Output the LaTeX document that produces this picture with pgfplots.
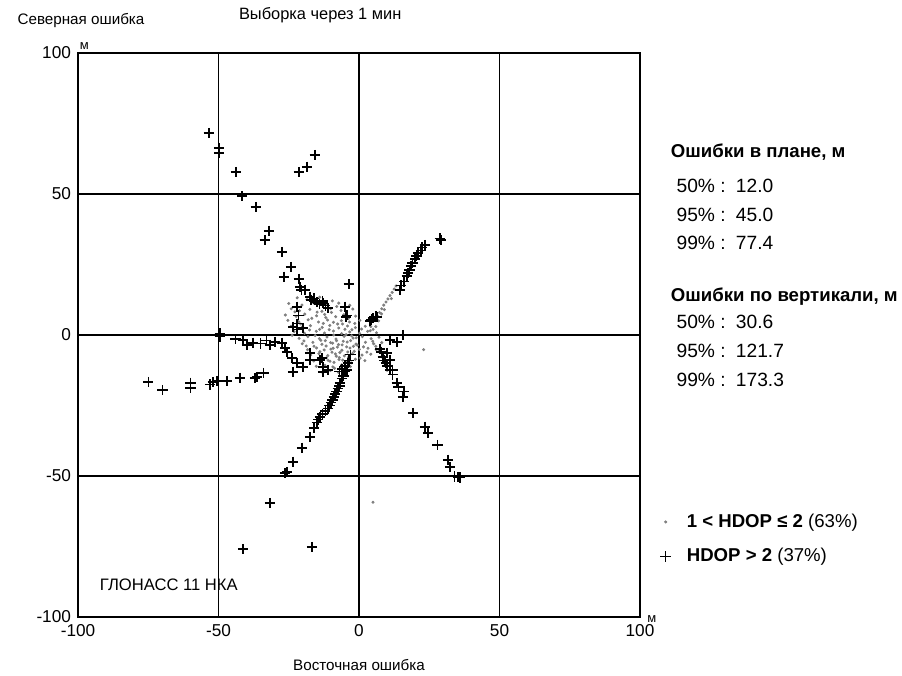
\documentclass[border=0pt]{standalone}
\usepackage{fontspec}
\setmainfont{Liberation Sans}
\usepackage{pgfplots}
\pgfplotsset{compat=1.18}

\begin{document}
\begin{tikzpicture}
\begin{axis}[
    scale only axis,
    width=281pt, height=282pt,
    xmin=-100, xmax=100, ymin=-100, ymax=100,
    xtick={-100,-50,0,50,100}, ytick={-100,-50,0,50,100},
    major tick length=0pt,
    grid=major,
    grid style={black, line width=0.95pt},
    axis line style={black, line width=1pt},
    /pgf/number format/assume math mode=true,
    ticklabel style={font=\fontsize{8.6}{10}\selectfont},
    clip=false,
    legend style={at={(1.025,0.138)}, anchor=west, draw=none, fill=none,
        font=\fontsize{9.3}{11}\selectfont, row sep=7pt,
        nodes={inner sep=1pt},
        /tikz/every odd column/.append style={column sep=7pt}},
    legend cell align=left,
]
% 1 < HDOP <= 2
\addplot[only marks, mark=*, mark size=0.55pt, color=black!50] coordinates {
(-22,13.2) (-18.5,12.6) (-14,13.4) (-9.5,12.1)
(-25,11.2) (-20.3,10.6) (-16.2,11.4) (-11.4,10.8) (-7.2,11.3) (-3.3,10.5)
(-24.1,9.3) (-21.2,8.6) (-17.5,9.1) (-13.2,8.4) (-10.1,9.4) (-6.4,8.7) (-2.2,9.2)
(-26.2,7.1) (-22.4,6.6) (-19.3,7.4) (-15.1,6.8) (-12.2,7.3) (-8.3,6.5) (-5.4,7.2) (-1.2,6.7)
(-25.3,5.2) (-21.5,4.7) (-18.1,5.4) (-14.4,4.6) (-11.2,5.3) (-9.1,4.5) (-6.3,5.1) (-3.4,4.6) (0.3,5.2)
(-24.2,3.1) (-20.4,2.6) (-17.3,3.3) (-13.1,2.7) (-10.4,3.4) (-7.2,2.5) (-4.1,3.2) (-1.3,2.6) (2.2,3.1)
(-23.1,1.2) (-19.4,0.6) (-15.2,1.3) (-12.3,0.7) (-9.1,1.4) (-6.2,0.5) (-3.3,1.1) (0.2,0.6) (3.1,1.3) (6.2,0.8)
(-21.3,-1.2) (-18.2,-0.6) (-14.1,-1.3) (-11.4,-0.7) (-8.2,-1.4) (-5.3,-0.5) (-2.1,-1.1) (1.2,-0.6) (4.3,-1.3) (7.1,-0.8)
(-20.2,-3.1) (-16.4,-2.6) (-13.2,-3.3) (-10.1,-2.7) (-7.3,-3.4) (-4.2,-2.5) (-1.1,-3.2) (2.3,-2.6) (5.2,-3.1) (8.1,-2.7)
(-18.3,-5.2) (-15.1,-4.6) (-12.4,-5.3) (-9.2,-4.7) (-6.1,-5.4) (-3.2,-4.6) (0.1,-5.1) (3.2,-4.7) (6.1,-5.2)
(-17.2,-7.1) (-14.3,-6.6) (-11.1,-7.3) (-8.4,-6.7) (-5.2,-7.4) (-2.3,-6.6) (1.1,-7.1) (4.2,-6.8)
(-16.1,-9.2) (-13.2,-8.6) (-10.3,-9.3) (-7.1,-8.7) (-4.2,-9.4) (-1.3,-8.6) (2.1,-9.1)
(-15.2,-11.1) (-12.1,-10.7) (-9.3,-11.3) (-6.2,-10.6) (-3.1,-11.2)
(-13.1,-13.2) (-10.2,-12.6) (-7.3,-13.3) (-4.1,-12.7)
(-8,-2) (-6,-3.5) (-4,-6) (-2,-4) (-9,0) (-12,-2) (-7,-8) (-3,-2) (-10,-5) (-5,2) (-1,-1) (-14,2) (-16,-4) (-11,-9)
(-13.6,-1.9) (-11.7,-3.9) (-9.6,-6.1) (-7.7,-4.3) (-5.6,-2.2) (-3.7,-7.9) (-1.7,-5.8) (-8.9,-9.7)
(-6.6,-11.9) (-10.6,1.9) (-7.6,3.9) (-4.6,0.1) (-2.6,-0.3) (-0.6,-3.6) (1.6,-4.2) (-12.7,4.1)
(-15.6,-0.2) (-17.6,1.8) (-19.6,-2.1) (-16.8,5.9) (-14.9,8.1) (-11.8,6.2) (-9.8,8.0) (-7.9,10.1)
(-5.9,3.9) (-3.8,5.8) (-13.9,-5.9) (-11.6,-8.1) (-8.7,-11.8) (-5.8,-8.9) (-2.8,-9.9) (0.4,-8.2)
(2.8,-6.1) (4.9,-2.2) (-18.8,-3.9) (-20.7,3.9) (-22.8,8.2) (-23.8,-0.1) (-6.8,-6.2) (-9.4,-2.9)
(-4.4,-4.2) (-8.1,-7.5) (-2.5,1.9) (0.9,2.1) (-1.5,4.1)
(4,1.5) (4.2,3) (4.1,4.5) (5,2) (6,3) (6.5,6.8) (7.3,8) (8.1,9.3) (8.8,10.6) (9.6,11.7)
(10.3,12.8) (11,14) (11.8,15.1) (12.5,16.3) (13.2,17.4) (7,5) (9,9) (11.5,12.9) (8,7.5)
(6,-4) (7,-5.8) (8,-7.7) (9,-10) (10,-12.5)
(5,-59.3) (23,-5.2)
};
\addlegendentry{\textbf{1 < HDOP ≤ 2} (63\%)}
% HDOP > 2
\addplot[only marks, mark=+, mark size=2.6pt, color=black, mark options={line width=0.75pt}] coordinates {
(-53.4,71.6) (-49.8,66.3) (-49.8,64.5) (-43.8,57.8) (-15.7,63.8) (-18.5,59.6) (-21.4,57.8)
(-41.6,49.3) (-36.7,45.4) (-32,36.9) (-33.5,33.7) (-27.4,29.4) (-24.2,24.1) (-26.7,20.6)
(-21.4,19.9) (-19.2,16) (-3.6,18.1) (-21,17) (-20.5,16)
(-17,12.5) (-15,11.7) (-13,12) (-12,10.5) (-11,9.5) (-16,13) (-14,11) (-17.4,13.5) (-12.8,11.3)
(-5,10) (-4.6,6.4) (-4.3,7) (-22,10) (-22,4) (-22,2) (-23.5,2.8) (-19.9,2.5) (-21.5,7)
(-49.5,0.5) (-49.5,-0.5) (-44,-1.5) (-41.3,-1.8) (-39.9,-3.5) (-37.7,-2.8) (-35,-3) (-33,-2)
(-31.7,-3.5) (-29.9,-2.5) (-27.4,-2.8) (-26.3,-4.6) (-25.6,-6) (-23.8,-8.2) (-22,-9.9)
(-23.5,-13.1) (-19.9,-11.3) (-17.4,-6.4) (-13.2,-8.2) (-12.8,-11.3) (-12.8,-13.1)
(-13.9,-8.9) (-17.4,-8.9) (-19.9,-11.3) (-11,-12.4)
(-75,-16.7) (-70,-19.5) (-60,-17) (-60,-18.8) (-53,-17.5) (-52,-16.7) (-50.5,-16.3) (-47,-16.3)
(-42.3,-15.2) (-37,-15.2) (-36.3,-14.9) (-34,-13.5)
(-3,-7) (-3.5,-9) (-4,-10) (-4.3,-12.4) (-5,-11) (-5,-13) (-6,-12) (-5.5,-14.5) (-6,-15.5)
(-7,-13) (-6.8,-17) (-7,-18) (-7.5,-19) (-8,-20) (-8.5,-21) (-9,-22) (-9.5,-23) (-10,-24)
(-10.5,-25) (-11,-26) (-12,-27) (-13,-28) (-13.9,-29) (-14.5,-30) (-15,-31) (-16,-33)
(-17.4,-36.2) (-20.3,-40) (-23.5,-45) (-25.6,-48.6) (-26.3,-49)
(-31.7,-59.6) (-41.3,-75.9) (-16.7,-75.2)
(7.5,-5) (8,-6) (8.5,-7.8) (9,-9) (9.5,-10) (10,-11) (11,-12.4) (12,-14) (13.5,-17)
(14,-18.5) (16,-20) (15.7,-22) (19.2,-27.7) (23.5,-32.6) (24.6,-34.8) (28,-39)
(31.7,-44.3) (32.4,-46.8) (34,-50.2) (35.2,-50.4) (36,-50.6)
(10,-6.4) (11,-8.9) (12,-12.4) (11,-1.8) (13.5,-2.5) (15.7,0)
(28.8,34.2) (29.2,33.7) (23.5,31.9) (22.5,31) (22,30) (21,29) (20.5,28) (20,27) (19,25.5)
(18.5,24.5) (18,23) (17.5,22) (17,21) (16,19) (15,17.5) (14.6,16)
(4,5) (4.5,5.5) (5,6) (6,6.5) (6.4,6.4)
};
\addlegendentry{\textbf{HDOP > 2} (37\%)}

\node[anchor=west, font=\fontsize{7.6}{9}\selectfont] at (axis cs:-124,111.7) {Северная ошибка};
\node[anchor=west, font=\fontsize{8.2}{10}\selectfont] at (axis cs:-45.2,113.5) {Выборка через 1 мин};
\node[font=\fontsize{7.6}{9}\selectfont] at (axis cs:0,-117) {Восточная ошибка};
\node[anchor=south west, inner sep=0pt, font=\fontsize{6.5}{8}\selectfont] at (axis cs:-99.5,101) {м};
\node[anchor=south west, inner sep=0pt, font=\fontsize{6.5}{8}\selectfont] at (axis cs:102.5,-102) {м};
\node[anchor=west, font=\fontsize{8.3}{10}\selectfont] at (axis cs:-94.7,-88.7) {ГЛОНАСС 11 НКА};

\node[anchor=west, font=\bfseries\fontsize{9.3}{11}\selectfont] at (axis cs:108.5,64.9) {Ошибки в плане, м};
\node[anchor=west, font=\fontsize{9.6}{11}\selectfont] at (axis cs:110.5,52.8) {50\% :\, 12.0};
\node[anchor=west, font=\fontsize{9.6}{11}\selectfont] at (axis cs:110.5,42.6) {95\% :\, 45.0};
\node[anchor=west, font=\fontsize{9.6}{11}\selectfont] at (axis cs:110.5,32.6) {99\% :\, 77.4};
\node[anchor=west, font=\bfseries\fontsize{9.3}{11}\selectfont] at (axis cs:108.5,13.5) {Ошибки по вертикали, м};
\node[anchor=west, font=\fontsize{9.6}{11}\selectfont] at (axis cs:110.5,4.6) {50\% :\, 30.6};
\node[anchor=west, font=\fontsize{9.6}{11}\selectfont] at (axis cs:110.5,-5.7) {95\% :\, 121.7};
\node[anchor=west, font=\fontsize{9.6}{11}\selectfont] at (axis cs:110.5,-16) {99\% :\, 173.3};
\end{axis}
\pgfresetboundingbox
\path[use as bounding box] ([xshift=-39pt,yshift=-29pt]current axis.south west)
    rectangle ([xshift=131pt,yshift=26.5pt]current axis.north east);
\end{tikzpicture}
\end{document}
